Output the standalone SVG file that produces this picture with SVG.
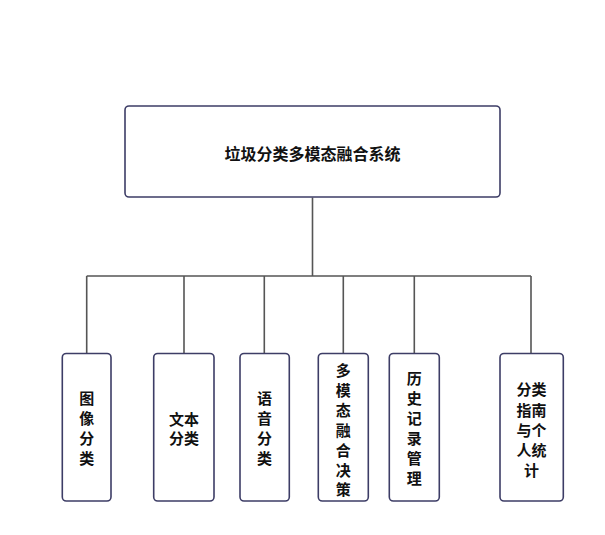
<svg xmlns="http://www.w3.org/2000/svg" width="605" height="535" viewBox="0 0 605 535">
<style>
.box{fill:#ffffff;stroke:#3d3d66;stroke-width:1.6}
.ln{fill:none;stroke:#555555;stroke-width:1.6}
.t{font-family:"Liberation Sans","Noto Sans CJK SC",sans-serif;font-size:15px;font-weight:bold;fill:#111111;text-anchor:middle;dominant-baseline:central}
.tt{font-size:16px}
</style>
<rect width="605" height="535" fill="#ffffff"/>
<g id="connectors">
<path class="ln" d="M312.5 197.5V276M86.7 276H531M86.7 276V353.5M184 276V353.5M264.3 276V353.5M343.3 276V353.5M414.3 276V353.5M531 276V353.5"/>
</g>
<g id="root">
<rect class="box" x="125" y="106" width="375" height="91" rx="4"/>
<text class="t tt" x="312.5" y="154">垃圾分类多模态融合系统</text>
</g>
<g id="n1">
<rect class="box" x="62.3" y="353.5" width="48.7" height="147.5" rx="4"/>
<text class="t" x="86.7" y="398">图</text><text class="t" x="86.7" y="418">像</text><text class="t" x="86.7" y="438">分</text><text class="t" x="86.7" y="458">类</text>
</g>
<g id="n2">
<rect class="box" x="153.7" y="353.5" width="60.3" height="147.5" rx="4"/>
<text class="t" x="184" y="419">文本</text><text class="t" x="184" y="438">分类</text>
</g>
<g id="n3">
<rect class="box" x="240" y="353.5" width="49.3" height="147.5" rx="4"/>
<text class="t" x="264.6" y="398">语</text><text class="t" x="264.6" y="418">音</text><text class="t" x="264.6" y="438">分</text><text class="t" x="264.6" y="458">类</text>
</g>
<g id="n4">
<rect class="box" x="318.3" y="353.5" width="50" height="147.5" rx="4"/>
<text class="t" x="343.3" y="370">多</text><text class="t" x="343.3" y="390">模</text><text class="t" x="343.3" y="410">态</text><text class="t" x="343.3" y="430">融</text><text class="t" x="343.3" y="450">合</text><text class="t" x="343.3" y="470">决</text><text class="t" x="343.3" y="489">策</text>
</g>
<g id="n5">
<rect class="box" x="389.3" y="353.5" width="50" height="147.5" rx="4"/>
<text class="t" x="414.3" y="378">历</text><text class="t" x="414.3" y="398">史</text><text class="t" x="414.3" y="418">记</text><text class="t" x="414.3" y="438">录</text><text class="t" x="414.3" y="458">管</text><text class="t" x="414.3" y="478">理</text>
</g>
<g id="n6">
<rect class="box" x="500" y="353.5" width="63.3" height="147.5" rx="4"/>
<text class="t" x="531.6" y="389">分类</text><text class="t" x="531.6" y="410">指南</text><text class="t" x="531.6" y="430">与个</text><text class="t" x="531.6" y="450">人统</text><text class="t" x="531.6" y="470">计</text>
</g>
</svg>
